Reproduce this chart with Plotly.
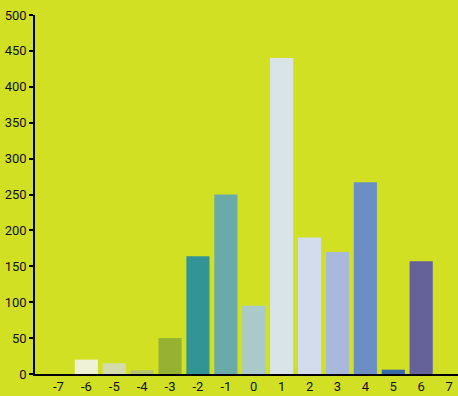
import plotly.graph_objects as go

categories = [-6, -5, -4, -3, -2, -1, 0, 1, 2, 3, 4, 5, 6]
values = [20, 15, 5, 50, 164, 250, 95, 440, 190, 170, 267, 6, 157]
colors = ["#eff2d6", "#d4dcae", "#b7c170", "#95b232", "#339496", "#6aaaa9",
          "#a9c9cb", "#d8e4e8", "#d3dcec", "#a8b9dc", "#6b8ec4", "#3869a9", "#656199"]
x_ticks = list(range(-7, 8))
x_labels = [str(v) for v in x_ticks]
y_ticks = list(range(0, 501, 50))

fig = go.Figure(go.Bar(x=categories, y=values, marker=dict(color=colors, line=dict(width=0)),
                       width=0.83))
bg = "#d2e024"
fig.update_layout(
    width=458, height=396,
    margin=dict(l=35, r=0, t=15, b=22),
    paper_bgcolor=bg, plot_bgcolor=bg,
    font=dict(family="Roboto", size=13, color="#111"),
    showlegend=False,
    xaxis=dict(range=[-7.84, 7.32], tickvals=x_ticks, ticktext=x_labels, showgrid=False,
               zeroline=False, showline=True, linecolor="black", linewidth=1.5,
               ticks="", ticklen=0),
    yaxis=dict(range=[0, 500], tickvals=y_ticks, showgrid=False, zeroline=False,
               showline=True, linecolor="black", linewidth=1.5, ticks="outside",
               ticklen=4, tickcolor="black", tickwidth=1.5),
)
fig.write_html("out.html", config={"displayModeBar": False},
               post_script="document.body.style.margin='0';document.body.style.overflow='hidden';")
